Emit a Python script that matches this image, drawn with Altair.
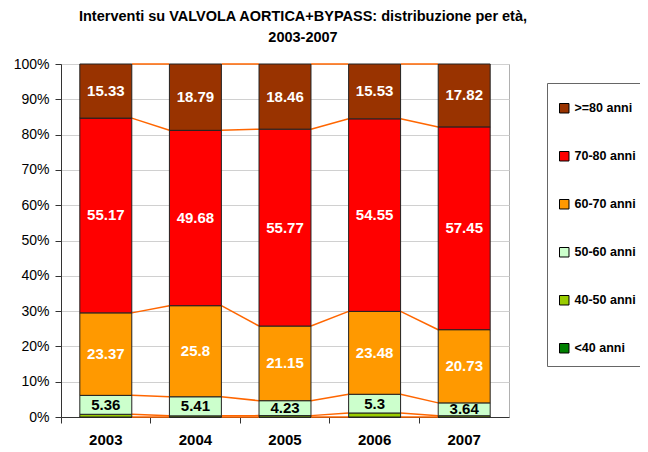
import altair as alt
import pandas as pd

years = ["2003", "2004", "2005", "2006", "2007"]
categories = ["<40 anni", "40-50 anni", "50-60 anni", "60-70 anni", "70-80 anni", ">=80 anni"]
v_lt40 = [0.0, 0.0, 0.0, 0.0, 0.0]
v_40_50 = [0.77, 0.32, 0.39, 1.14, 0.36]
v_50_60 = [5.36, 5.41, 4.23, 5.3, 3.64]
v_60_70 = [23.37, 25.8, 21.15, 23.48, 20.73]
v_70_80 = [55.17, 49.68, 55.77, 54.55, 57.45]
v_ge80 = [15.33, 18.79, 18.46, 15.53, 17.82]
colors = ["#008000", "#99CC00", "#CCFFCC", "#FF9900", "#FF0000", "#993300"]
label_colors = {"50-60 anni": "black", "60-70 anni": "white", "70-80 anni": "white", ">=80 anni": "white"}

series = [v_lt40, v_40_50, v_50_60, v_60_70, v_70_80, v_ge80]

rows = []
for i, y in enumerate(years):
    tot = sum(s[i] for s in series)
    cum = 0.0
    for c, s in zip(categories, series):
        v = s[i] / tot * 100
        rows.append({"year": y, "cat": c, "val": s[i], "y0": cum, "y1": cum + v,
                     "mid": cum + v / 2, "label": (str(s[i]) if c in label_colors else ""),
                     "lc": label_colors.get(c, "black"), "order": categories.index(c)})
        cum += v
df = pd.DataFrame(rows)

seg = []
for i in range(len(years) - 1):
    for c in categories:
        a = df[(df.year == years[i]) & (df.cat == c)].iloc[0]
        b = df[(df.year == years[i + 1]) & (df.cat == c)].iloc[0]
        seg.append({"year": years[i], "next": years[i + 1], "ya": a.y1, "yb": b.y1})
segdf = pd.DataFrame(seg)

FONT = "Liberation Sans"

xscale = alt.Scale(domain=years, paddingInner=0, paddingOuter=0)
yscale = alt.Scale(domain=[0, 100], nice=False)

xaxis = alt.Axis(bandPosition=0, labelAngle=0, labelFontWeight="bold",
                 labelFontSize=15, labelPadding=9, tickSize=6, domainColor="#333333",
                 tickColor="#333333", labelColor="black", grid=False)
yaxis = alt.Axis(values=[0, 10, 20, 30, 40, 50, 60, 70, 80, 90, 100],
                 labelExpr="datum.value + '%'", labelFontSize=14, tickSize=6,
                 labelPadding=6, domainColor="#333333", tickColor="#333333",
                 gridColor="#d0d0d0", labelColor="black")

bars = alt.Chart(df).mark_bar(stroke="#222222", strokeWidth=1, width=alt.RelativeBandSize(0.58)).encode(
    x=alt.X("year:N", scale=xscale, title=None, axis=xaxis),
    y=alt.Y("y0:Q", scale=yscale, title=None, axis=yaxis),
    y2="y1:Q",
    color=alt.Color("cat:N", scale=alt.Scale(domain=categories[::-1], range=colors[::-1]),
                    legend=alt.Legend(title=" ", titleFontSize=2, titlePadding=6, orient="none",
                                      legendX=486, legendY=19, padding=11,
                                      strokeColor="#666666", fillColor="white",
                                      symbolType="square", symbolSize=90,
                                      symbolStrokeColor="black", symbolStrokeWidth=1,
                                      labelFontSize=12.5, labelFontWeight="bold", labelColor="black",
                                      rowPadding=34, labelOffset=4, labelLimit=300)),
)

lines = alt.Chart(segdf).mark_rule(color="#FF6600", strokeWidth=1.5).encode(
    x=alt.X("year:N", scale=xscale, bandPosition=0.79, title=None, axis=xaxis),
    x2=alt.X2("next:N", bandPosition=0.21),
    y=alt.Y("ya:Q", scale=yscale, title=None, axis=yaxis),
    y2="yb:Q",
)

texts = alt.Chart(df[df.label != ""]).mark_text(fontSize=15, fontWeight="bold", baseline="middle").encode(
    x=alt.X("year:N", scale=xscale, title=None, axis=xaxis),
    y=alt.Y("mid:Q", scale=yscale, title=None, axis=yaxis),
    text="label:N",
    color=alt.Color("lc:N", scale=None),
)

chart = alt.layer(lines, bars, texts).properties(
    width=448, height=353,
    title=alt.TitleParams(["Interventi  su VALVOLA AORTICA+BYPASS: distribuzione per età,", "2003-2007"],
                          font="Liberation Sans Narrow, Liberation Sans", fontSize=14.5, fontWeight="bold",
                          anchor="middle", dx=18, offset=12, lineHeight=21, color="black"),
    autosize=alt.AutoSizeParams(type="none"),
    padding={"left": 53, "top": 56, "right": 131, "bottom": 34},
).configure(font=FONT).configure_view(stroke="#b0b0b0")

chart.save("out.html", embed_options={"renderer": "svg", "actions": False})
